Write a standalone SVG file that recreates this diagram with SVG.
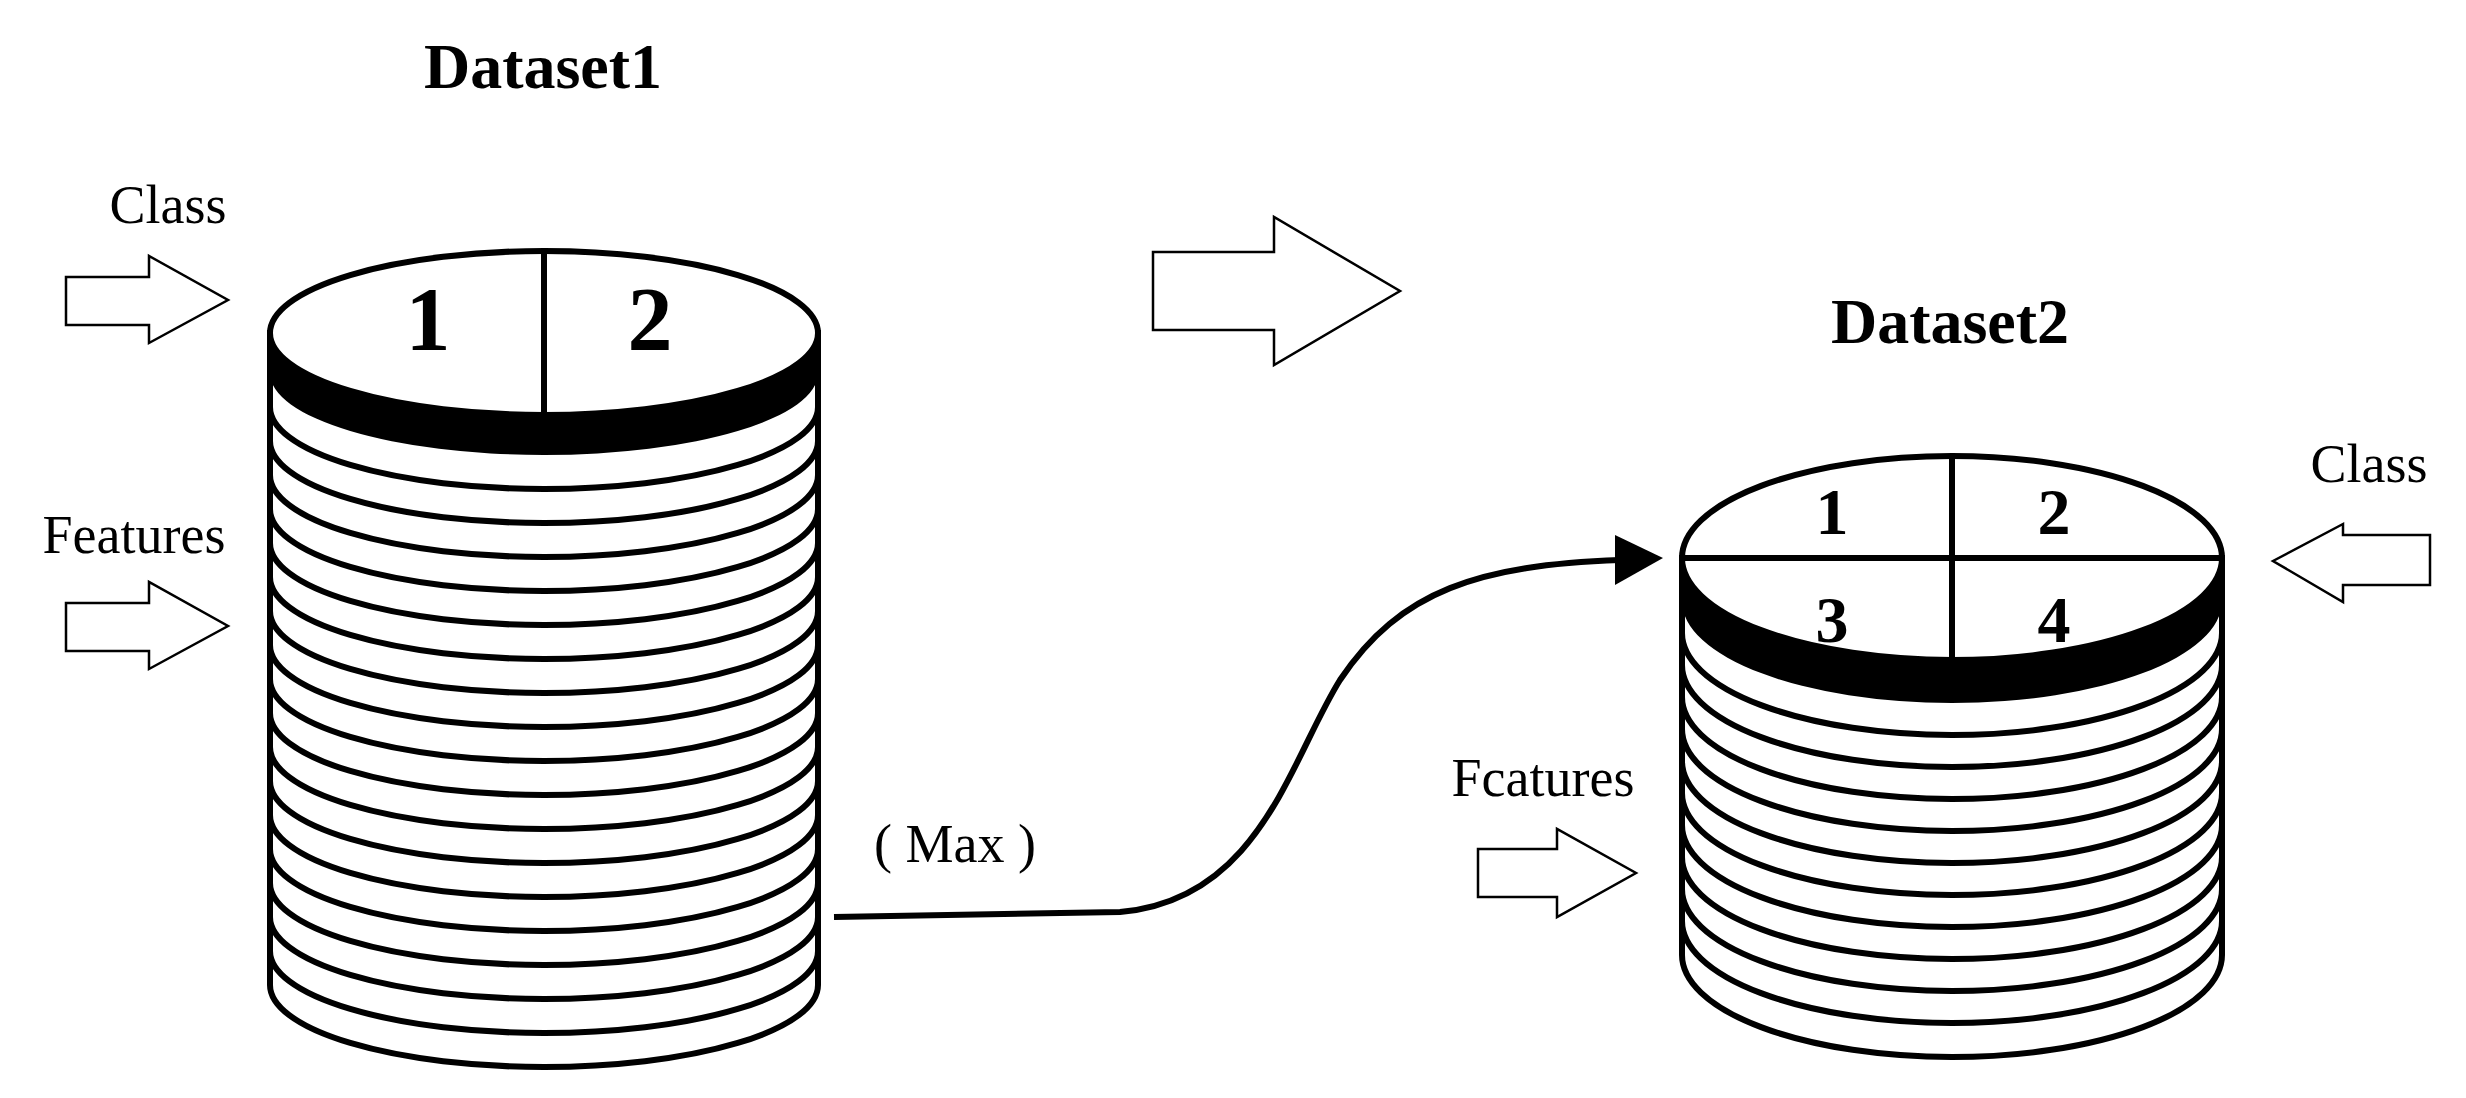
<svg xmlns="http://www.w3.org/2000/svg" width="2466" height="1098" viewBox="0 0 2466 1098">
<style>
.s{fill:none;stroke:#000;stroke-width:6}
.w{fill:#fff;stroke:#000;stroke-width:6}
.ar{fill:#fff;stroke:#000;stroke-width:2.5}
.t{font-family:"Liberation Serif",serif;fill:#000}
.b{font-weight:bold}
</style>
<rect width="2466" height="1098" fill="#fff"/>
<g id="dataset1">
<text class="t b" x="543" y="88" font-size="64" text-anchor="middle">Dataset1</text>
<path class="w" d="M270 333 L270 985 A274 82 0 0 0 818 985 L818 333 Z"/>
<path d="M270 333 A274 82 0 0 0 818 333 L818 373 A274 82 0 0 1 270 373 Z" fill="#000"/>
<g class="s">
<path d="M270 407 A274 82 0 0 0 818 407"/><path d="M270 441 A274 82 0 0 0 818 441"/><path d="M270 475 A274 82 0 0 0 818 475"/><path d="M270 509 A274 82 0 0 0 818 509"/><path d="M270 543 A274 82 0 0 0 818 543"/><path d="M270 577 A274 82 0 0 0 818 577"/><path d="M270 611 A274 82 0 0 0 818 611"/><path d="M270 645 A274 82 0 0 0 818 645"/><path d="M270 679 A274 82 0 0 0 818 679"/><path d="M270 713 A274 82 0 0 0 818 713"/><path d="M270 747 A274 82 0 0 0 818 747"/><path d="M270 781 A274 82 0 0 0 818 781"/><path d="M270 815 A274 82 0 0 0 818 815"/><path d="M270 849 A274 82 0 0 0 818 849"/><path d="M270 883 A274 82 0 0 0 818 883"/><path d="M270 917 A274 82 0 0 0 818 917"/><path d="M270 951 A274 82 0 0 0 818 951"/>
</g>
<ellipse class="w" cx="544" cy="333" rx="274" ry="82"/>
<line class="s" x1="544" y1="251" x2="544" y2="415"/>
<text class="t b" x="428" y="350" font-size="90" text-anchor="middle">1</text>
<text class="t b" x="650" y="350" font-size="90" text-anchor="middle">2</text>
</g>
<g id="class1">
<text class="t" x="168" y="223" font-size="54" text-anchor="middle">Class</text>
<path class="ar" d="M66 277 H149 V256 L228 300 L149 343 V325 H66 Z"/>
</g>
<g id="features1">
<text class="t" x="134" y="553" font-size="54" text-anchor="middle">Features</text>
<path class="ar" d="M66 603 H149 V582 L228 626 L149 669 V651 H66 Z"/>
</g>
<g id="bigarrow">
<path class="ar" d="M1153 252 H1274 V217 L1400 291 L1274 365 V330 H1153 Z"/>
</g>
<g id="dataset2">
<text class="t b" x="1950" y="343" font-size="64" text-anchor="middle">Dataset2</text>
<path class="w" d="M1682 558 L1682 955 A270 102 0 0 0 2222 955 L2222 558 Z"/>
<path d="M1682 558 A270 102 0 0 0 2222 558 L2222 601 A270 102 0 0 1 1682 601 Z" fill="#000"/>
<g class="s">
<path d="M1682 633 A270 102 0 0 0 2222 633"/><path d="M1682 665 A270 102 0 0 0 2222 665"/><path d="M1682 697 A270 102 0 0 0 2222 697"/><path d="M1682 729 A270 102 0 0 0 2222 729"/><path d="M1682 761 A270 102 0 0 0 2222 761"/><path d="M1682 793 A270 102 0 0 0 2222 793"/><path d="M1682 825 A270 102 0 0 0 2222 825"/><path d="M1682 857 A270 102 0 0 0 2222 857"/><path d="M1682 889 A270 102 0 0 0 2222 889"/><path d="M1682 921 A270 102 0 0 0 2222 921"/>
</g>
<ellipse class="w" cx="1952" cy="558" rx="270" ry="102"/>
<line class="s" x1="1682" y1="558" x2="2222" y2="558"/>
<line class="s" x1="1952" y1="456" x2="1952" y2="660"/>
<text class="t b" x="1832" y="534" font-size="66" text-anchor="middle">1</text>
<text class="t b" x="2054" y="534" font-size="66" text-anchor="middle">2</text>
<text class="t b" x="1832" y="642" font-size="66" text-anchor="middle">3</text>
<text class="t b" x="2054" y="642" font-size="66" text-anchor="middle">4</text>
</g>
<g id="class2">
<text class="t" x="2369" y="482" font-size="54" text-anchor="middle">Class</text>
<path class="ar" d="M2430 535 H2343 V524 L2273 561 L2343 602 V585 H2430 Z"/>
</g>
<g id="features2">
<text class="t" x="1543" y="796" font-size="54" text-anchor="middle">Fcatures</text>
<path class="ar" d="M1478 849 H1557 V829 L1636 873 L1557 917 V897 H1478 Z"/>
</g>
<g id="connectors">
<path d="M834 917 L1120 912 C1260 900 1290 760 1340 680 C1400 590 1480 565 1620 560" fill="none" stroke="#000" stroke-width="6"/>
<path d="M1615 535 L1663 558 L1615 585 Z" fill="#000"/>
<text class="t" x="955" y="862" font-size="54" text-anchor="middle">( Max )</text>
</g>
</svg>
